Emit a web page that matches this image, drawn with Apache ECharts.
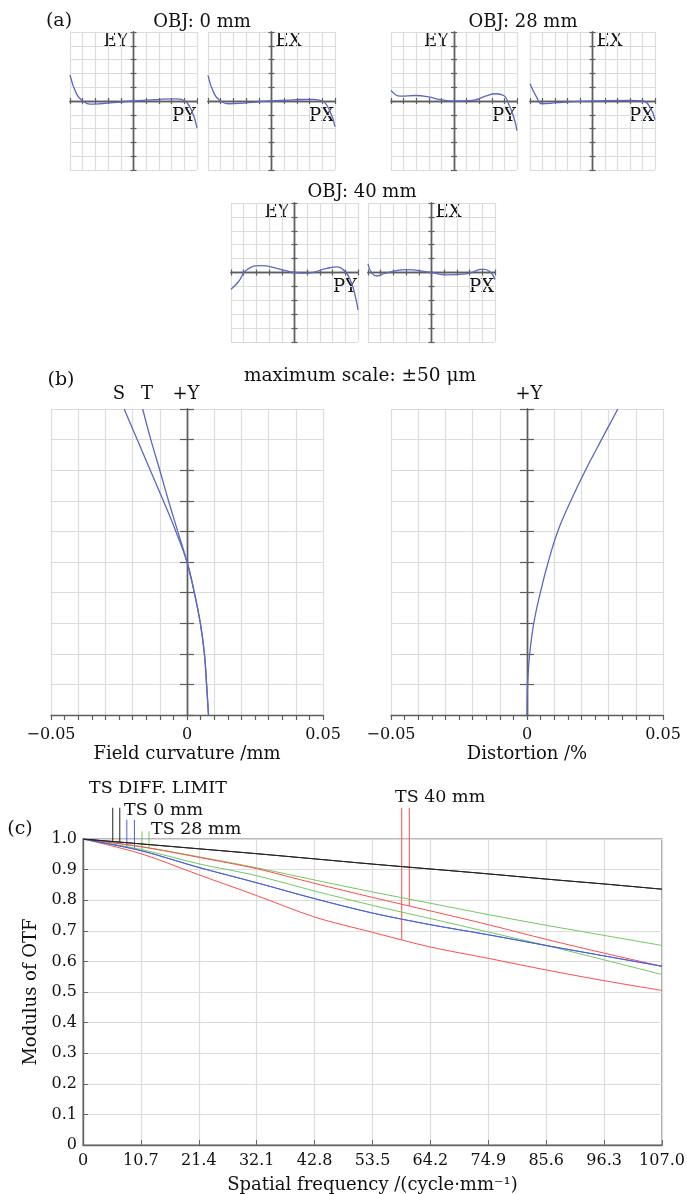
<!DOCTYPE html>
<html><head><meta charset="utf-8">
<script src="https://cdn.jsdelivr.net/npm/echarts@6/dist/echarts.min.js"></script>
<style>html,body{margin:0;padding:0;background:#fff}#c{width:687px;height:1194px}</style>
</head><body><div id="c"></div>
<script>
// ================= DATA =================
// (a) ray fans: [relative pupil coordinate, ray error / maximum scale (±50 µm)]
const fan0EY  = [[-1,0.38],[-0.895,0.10],[-0.795,0.0],[-0.685,-0.045],[-0.53,-0.04],[-0.26,-0.02],[0,0],[0.26,0.015],[0.42,0.025],[0.68,0.03],[0.81,0.0],[0.92,-0.15],[1,-0.39]];
const fan0EX  = [[-1,0.37],[-0.9,0.10],[-0.8,0.0],[-0.68,-0.04],[-0.5,-0.035],[-0.25,-0.015],[0,0],[0.25,0.012],[0.45,0.022],[0.66,0.025],[0.8,0.0],[0.92,-0.15],[1,-0.37]];
const fan28EY = [[-1,0.155],[-0.85,0.07],[-0.61,0.08],[-0.40,0.06],[-0.24,0.025],[0,0],[0.29,0.01],[0.50,0.07],[0.66,0.105],[0.79,0.08],[0.87,-0.05],[0.95,-0.24],[1,-0.43]];
const fan28EX = [[-1,0.25],[-0.89,0.05],[-0.81,-0.04],[-0.57,-0.025],[-0.31,-0.01],[0,0],[0.6,0.01],[0.81,0.0],[0.92,-0.09],[1,-0.27]];
const fan40EY = [[-1,-0.24],[-0.88,-0.13],[-0.75,0.04],[-0.52,0.10],[-0.28,0.06],[0,0],[0.19,-0.01],[0.51,0.06],[0.67,0.08],[0.77,0.04],[0.88,-0.11],[0.96,-0.35],[1,-0.54]];
const fan40EX = [[-1,0.125],[-0.94,-0.01],[-0.86,-0.05],[-0.72,-0.01],[-0.41,0.04],[0,0],[0.23,-0.035],[0.55,-0.02],[0.81,0.05],[0.92,0.015],[1,-0.1]];
const fanTitles = ['OBJ: 0 mm', 'OBJ: 28 mm', 'OBJ: 40 mm'];

// (b) field curvature (mm) and distortion (%) vs. relative field height
const fieldHeight = [0,0.1,0.2,0.3,0.4,0.5,0.6,0.7,0.8,0.9,1.0];
const curvatureS  = [0.0079,0.0072,0.0064,0.0049,0.0027,0.0,-0.0041,-0.0087,-0.0135,-0.0183,-0.0231];
const curvatureT  = [0.0079,0.0072,0.0064,0.0049,0.0027,0.0,-0.0034,-0.0068,-0.0100,-0.0133,-0.0163];
const distortion  = [0,0.0002,0.0010,0.0025,0.0049,0.0078,0.0113,0.0161,0.0215,0.0274,0.0334];
const bTickLabels = {'-0.05':'\u22120.05','0':'0','0.05':'0.05'};

// (c) MTF vs spatial frequency
const freq     = [0,10.7,21.4,32.1,42.8,53.5,64.2,74.9,85.6,96.3,107.0];
const mtfDiff  = [1,0.984,0.968,0.952,0.935,0.918,0.902,0.886,0.869,0.853,0.836];
const mtf0T    = [1,0.962,0.907,0.857,0.805,0.758,0.720,0.687,0.652,0.618,0.584];
const mtf0S    = [1,0.962,0.907,0.857,0.805,0.758,0.720,0.687,0.652,0.618,0.584];
const mtf28T   = [1,0.966,0.919,0.880,0.830,0.783,0.740,0.696,0.652,0.605,0.557];
const mtf28S   = [1,0.975,0.942,0.906,0.866,0.827,0.790,0.753,0.718,0.685,0.652];
const mtf40T   = [1,0.952,0.883,0.815,0.745,0.695,0.647,0.610,0.572,0.537,0.505];
const mtf40S   = [1,0.975,0.940,0.903,0.855,0.809,0.765,0.720,0.672,0.627,0.584];
const mtfLegend = ['TS DIFF. LIMIT', 'TS 0 mm', 'TS 28 mm', 'TS 40 mm'];
const legendMarkFreq = [[5.5,6.8],[8.1,9.5],[10.9,12.2],[58.9,60.3]];

// ================= DRAWING =================
const FONT = '"DejaVu Serif","Liberation Serif",serif';
const FAN_COLOR = '#5a68c4';
const GRID_C = '#dcdcdc', AXIS_C = '#5e5e5e';
const grids = [], xAxes = [], yAxes = [], series = [], graphics = [];

function addText(text, x, y, size, align) {
  graphics.push({type:'text', x:x, y:y, silent:true,
    style:{text:text, font:size+'px '+FONT, fill:'#111', align:align||'center', verticalAlign:'middle'}});
}

// ---- (a) ----
const fanPanels = [
  {g:{left:70, top:32, width:127, height:138}, d:fan0EY, v:'EY', h:'PY'},
  {g:{left:208,top:32, width:127, height:138}, d:fan0EX, v:'EX', h:'PX'},
  {g:{left:391,top:32, width:126, height:138}, d:fan28EY, v:'EY', h:'PY'},
  {g:{left:530,top:32, width:125, height:138}, d:fan28EX, v:'EX', h:'PX'},
  {g:{left:231,top:203,width:127, height:139}, d:fan40EY, v:'EY', h:'PY'},
  {g:{left:368,top:203,width:127, height:139}, d:fan40EX, v:'EX', h:'PX'}
];
fanPanels.forEach(function(p){
  const gi = grids.length;
  grids.push(Object.assign({outerBoundsMode:'none', containLabel:false}, p.g));
  const xi = xAxes.length, yi = yAxes.length;
  ['bottom','top'].forEach(function(pos, k){
    xAxes.push({gridIndex:gi, type:'value', min:-1, max:1, interval:0.2, position:pos,
      axisLine:{show:true, onZero:true, onZeroAxisIndex:yi+k, lineStyle:{color:AXIS_C, width:1.4}},
      axisTick:{show:true, length:3, lineStyle:{color:AXIS_C, width:1.2}},
      axisLabel:{show:false},
      splitLine:{show:k===0, lineStyle:{color:GRID_C, width:1.2}}});
  });
  ['left','right'].forEach(function(pos, k){
    yAxes.push({gridIndex:gi, type:'value', min:-1, max:1, interval:0.2, position:pos,
      axisLine:{show:true, onZero:true, onZeroAxisIndex:xi+k, lineStyle:{color:AXIS_C, width:1.4}},
      axisTick:{show:true, length:3, lineStyle:{color:AXIS_C, width:1.2}},
      axisLabel:{show:false},
      splitLine:{show:k===0, lineStyle:{color:GRID_C, width:1.2}}});
  });
  series.push({type:'line', xAxisIndex:xi, yAxisIndex:yi, data:p.d, smooth:0.5, showSymbol:false,
    silent:true, lineStyle:{color:FAN_COLOR, width:1.3}});
  const cx = p.g.left + p.g.width/2, cy = p.g.top + p.g.height/2;
  if (p.v === 'EY') addText(p.v, cx-5, p.g.top+9, 18, 'right');
  else addText(p.v, cx+4, p.g.top+9, 18, 'left');
  addText(p.h, p.g.left+p.g.width-1, cy+15, 18, 'right');
});
addText('(a)', 59, 21, 19);
addText(fanTitles[0], 202, 22, 18);
addText(fanTitles[1], 523, 22, 18);
addText(fanTitles[2], 362, 192, 18);

// ---- (b) ----
const bPanels = [
  {g:{left:51, top:409, width:272, height:306}, name:'Field curvature /mm',
   lines:[curvatureS, curvatureT]},
  {g:{left:391, top:409, width:272, height:306}, name:'Distortion /%',
   lines:[distortion]}
];
bPanels.forEach(function(p){
  const gi = grids.length;
  grids.push(Object.assign({outerBoundsMode:'none', containLabel:false}, p.g));
  const xi = xAxes.length, yi = yAxes.length;
  xAxes.push({gridIndex:gi, type:'value', min:-0.05, max:0.05, interval:0.01, position:'bottom',
    axisLine:{show:true, onZero:false, lineStyle:{color:AXIS_C, width:1.4}},
    axisTick:{show:true, length:5, lineStyle:{color:AXIS_C, width:1.2}},
    minorTick:{show:true, splitNumber:2, length:5, lineStyle:{color:AXIS_C, width:1.2}},
    axisLabel:{show:true, interval:0, margin:12, color:'#111', fontFamily:FONT, fontSize:16,
      formatter:function(v){ const k = String(Math.round(v*100)/100); return bTickLabels[k] !== undefined ? bTickLabels[k] : ''; }},
    splitLine:{show:true, lineStyle:{color:GRID_C, width:1.2}},
    name:p.name, nameLocation:'middle', nameGap:30,
    nameTextStyle:{color:'#111', fontFamily:FONT, fontSize:18}});
  // invisible companion axis so the second +Y tick axis can sit on zero too
  xAxes.push({gridIndex:gi, type:'value', min:-0.05, max:0.05, interval:0.01, position:'top',
    axisLine:{show:false, onZero:false}, axisTick:{show:false}, axisLabel:{show:false}, splitLine:{show:false}});
  ['left','right'].forEach(function(pos, k){
    yAxes.push({gridIndex:gi, type:'value', min:0, max:1, interval:0.1, position:pos,
      axisLine:{show:true, onZero:true, onZeroAxisIndex:xi+k, lineStyle:{color:AXIS_C, width:1.4}},
      axisTick:{show:true, length:7, lineStyle:{color:AXIS_C, width:1.2}},
      axisLabel:{show:false},
      splitLine:{show:k===0, lineStyle:{color:GRID_C, width:1.2}}});
  });
  p.lines.forEach(function(arr){
    series.push({type:'line', xAxisIndex:xi, yAxisIndex:yi, smooth:0.4, showSymbol:false, silent:true,
      data: fieldHeight.map(function(h,i){ return [arr[i], h]; }),
      lineStyle:{color:FAN_COLOR, width:1.3}});
  });
});
addText('(b)', 61, 380, 19);
addText('maximum scale: \u00b150 \u03bcm', 360, 376, 18.5);
addText('S', 119, 394, 18);
addText('T', 147, 394, 18);
addText('+Y', 186, 394, 18);
addText('+Y', 529, 394, 18);

// ---- (c) ----
const cg = grids.length;
grids.push({left:83, top:839, width:579, height:306, outerBoundsMode:'none', containLabel:false,
  show:true, borderColor:'#777', borderWidth:1.2, backgroundColor:'transparent'});
const cx = xAxes.length, cy = yAxes.length;
function numFmt(v){ return Math.abs(v) < 1e-9 ? '0' : v.toFixed(1); }
xAxes.push({gridIndex:cg, type:'value', min:0, max:107, interval:10.7,
  axisLine:{show:true, onZero:false, lineStyle:{color:'#666', width:1.4}},
  axisTick:{show:true, inside:true, length:5, lineStyle:{color:'#666'}},
  axisLabel:{show:true, interval:0, margin:8, color:'#111', fontFamily:FONT, fontSize:16, formatter:numFmt},
  splitLine:{show:true, lineStyle:{color:GRID_C, width:1.2}},
  name:'Spatial frequency /(cycle\u00b7mm\u207b\u00b9)', nameLocation:'middle', nameGap:31,
  nameTextStyle:{color:'#111', fontFamily:FONT, fontSize:18}});
yAxes.push({gridIndex:cg, type:'value', min:0, max:1, interval:0.1,
  axisLine:{show:true, onZero:false, lineStyle:{color:'#666', width:1.4}},
  axisTick:{show:true, inside:true, length:5, lineStyle:{color:'#666'}},
  axisLabel:{show:true, interval:0, margin:6, color:'#111', fontFamily:FONT, fontSize:16, formatter:numFmt},
  splitLine:{show:true, lineStyle:{color:GRID_C, width:1.2}},
  name:'Modulus of OTF', nameLocation:'middle', nameGap:37,
  nameTextStyle:{color:'#111', fontFamily:FONT, fontSize:18}});

const mtfSets = [
  {color:'#222222', arrs:[mtfDiff, mtfDiff]},
  {color:'#4a63dc', arrs:[mtf0T, mtf0S]},
  {color:'#72c85e', arrs:[mtf28T, mtf28S]},
  {color:'#ff4c4c', arrs:[mtf40T, mtf40S]}
];
[2,3,1,0].forEach(function(si){
  const s = mtfSets[si];
  s.arrs.forEach(function(arr){
    series.push({type:'line', xAxisIndex:cx, yAxisIndex:cy, showSymbol:false, silent:true, smooth:0.3,
      data: freq.map(function(f,i){ return [f, arr[i]]; }),
      lineStyle:{color:s.color, width:1}});
  });
});
function interp(xs, ys, x){
  for (let i=0;i<xs.length-1;i++){ if (x>=xs[i] && x<=xs[i+1]) { const t=(x-xs[i])/(xs[i+1]-xs[i]); return ys[i]+t*(ys[i+1]-ys[i]); } }
  return ys[ys.length-1];
}
// legend leader lines: top end in axis units (above the plot)
const leaderTop = [1.102, 1.063, 1.025, 1.102];
mtfSets.forEach(function(s, si){
  const pts = legendMarkFreq[si].map(function(f, k){ return [f, interp(freq, s.arrs[k], f), leaderTop[si]]; });
  series.push({type:'custom', xAxisIndex:cx, yAxisIndex:cy, clip:false, silent:true,
    encode:{x:0, y:[1,2]}, data:pts,
    renderItem:function(params, api){
      const a = api.coord([api.value(0), api.value(1)]);
      const b = api.coord([api.value(0), api.value(2)]);
      return {type:'line', shape:{x1:a[0], y1:a[1], x2:b[0], y2:b[1]}, style:{stroke:s.color, lineWidth:1}};
    }});
});
addText('(c)', 20, 829, 19);
addText(mtfLegend[0], 89, 788, 17.5, 'left');
addText(mtfLegend[1], 124, 810, 17.5, 'left');
addText(mtfLegend[2], 151, 829, 17.5, 'left');
addText(mtfLegend[3], 395, 797, 17.5, 'left');

const chart = echarts.init(document.getElementById('c'), null, {renderer:'canvas'});
chart.setOption({
  backgroundColor:'#ffffff',
  animation:false,
  textStyle:{fontFamily:FONT},
  grid:grids, xAxis:xAxes, yAxis:yAxes, series:series, graphic:graphics
});
</script></body></html>
